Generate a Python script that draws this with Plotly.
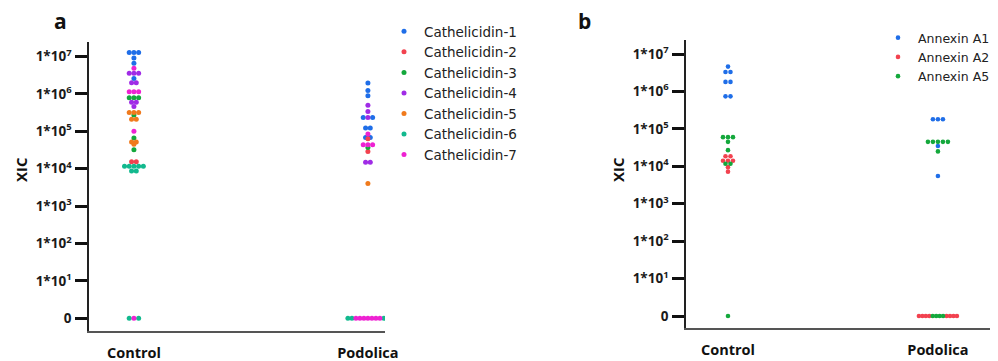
import math
import plotly.graph_objects as go

# The page body has an 8px margin; figure coordinates are window pixels minus this offset.
OFF = 8
W, H = 998 - OFF, 361 - OFF


def fx(px):
    return (px - OFF) / W


def fy(py):
    return 1 - (py - OFF) / H


groups = ["Control", "Podolica"]

# ---------------- Panel a: Cathelicidins (XIC values) ----------------
cath_names = ["Cathelicidin-1", "Cathelicidin-2", "Cathelicidin-3", "Cathelicidin-4",
              "Cathelicidin-5", "Cathelicidin-6", "Cathelicidin-7"]
cath_colors = ["#1f6ee8", "#f2424f", "#14a83c", "#a02ce6", "#f07a1c", "#12b98e", "#ee22d2"]

cath_control = [
    [1.28e7, 1.28e7, 1.28e7, 9.1e6, 6.6e6, 2.6e6],                 # C-1
    [1.55e4, 1.55e4],                                                # C-2
    [7.9e5, 7.9e5, 7.9e5, 2.75e5, 6.6e4, 3.2e4],                     # C-3
    [3.6e6, 3.6e6, 3.6e6, 2.0e6, 2.0e6, 6.0e5, 6.0e5, 4.6e5],        # C-4
    [3.2e5, 3.2e5, 3.2e5, 2.1e5, 2.1e5, 5.2e4, 5.2e4, 4.5e4],        # C-5
    [1.17e4] * 5 + [8.7e3, 8.7e3, 0, 0],                             # C-6
    [4.9e6, 1.15e6, 1.15e6, 1.15e6, 1.0e5, 0],                       # C-7
]
cath_podolica = [
    [1.95e6, 1.23e6, 8.9e5, 2.35e5, 2.35e5, 1.23e5, 1.23e5, 6.8e4, 6.8e4],  # C-1
    [6.3e4, 2.9e4],                                                          # C-2
    [3.7e4],                                                                 # C-3
    [5.0e5, 3.4e5, 2.35e5, 1.5e4, 1.5e4],                                    # C-4
    [4.0e3],                                                                 # C-5
    [0, 0, 0, 0],                                                            # C-6
    [8.5e4, 4.4e4, 4.4e4, 4.4e4] + [0] * 7,                                  # C-7
]

# ---------------- Panel b: Annexins (XIC values) ----------------
anx_names = ["Annexin A1", "Annexin A2", "Annexin A5"]
anx_colors = ["#1f6ee8", "#f2424f", "#14a83c"]

anx_control = [
    [4.6e6, 3.3e6, 3.3e6, 1.8e6, 1.8e6, 7.4e5, 7.4e5],               # A1
    [1.86e4, 1.86e4, 1.4e4, 1.4e4, 1.4e4, 9.5e3, 7.2e3],             # A2
    [6.0e4, 6.0e4, 6.0e4, 4.5e4, 2.7e4, 1.17e4, 1.17e4, 0],          # A5
]
anx_podolica = [
    [1.8e5, 1.8e5, 1.8e5, 3.5e4, 5.5e3],                             # A1
    [0] * 8,                                                         # A2
    [4.5e4] * 5 + [2.5e4, 0, 0, 0, 0],                               # A5
]

decades = list(range(8))
tick_text = ["0"] + ["1*10<sup>%d</sup>" % k for k in decades[1:]]


def ypos(v):
    return math.log10(v) if v > 0 else 0.0


def swarm(per_series, gi, px_per_unit, d_px, max_w):
    """Spread points with equal values side by side, centred on the group."""
    rows = {}
    for si, vals in enumerate(per_series):
        for v in vals:
            rows.setdefault(v, []).append(si)
    out = [([], []) for _ in per_series]
    for v, members in rows.items():
        members = sorted(members, reverse=True)
        n = len(members)
        sp = d_px if n < 2 else min(d_px, max_w / (n - 1))
        for k, si in enumerate(members):
            if n % 2 == 1:
                slot = 0 if k == 0 else ((k + 1) // 2) * (1 if k % 2 == 1 else -1)
            else:
                slot = (k // 2 + 0.5) * (1 if k % 2 == 0 else -1)
            out[si][0].append(gi + slot * sp / px_per_unit)
            out[si][1].append(ypos(v))
    return out


# panel geometry (paper fractions from window pixel positions)
a_xdom = [fx(89), fx(385)]
a_xrng = [-0.192, 1.073]
a_ydom = [fy(331), fy(42)]
a_yrng = [-0.34, 7.39]
b_xdom = [fx(686), fx(990)]
b_xrng = [-0.2, 1.248]
b_ydom = [fy(328), fy(40)]
b_yrng = [-0.32, 7.374]

a_ppu = (a_xdom[1] - a_xdom[0]) * W / (a_xrng[1] - a_xrng[0])
b_ppu = (b_xdom[1] - b_xdom[0]) * W / (b_xrng[1] - b_xrng[0])

fig = go.Figure()


def add_panel(names, colors, data_groups, ppu, d_px, max_w, msize, xa, ya, leg):
    placed = [swarm(dg, gi, ppu, d_px, max_w) for gi, dg in enumerate(data_groups)]
    for si, (nm, col) in enumerate(zip(names, colors)):
        xs, ys = [], []
        for gp in placed:
            xs += gp[si][0]
            ys += gp[si][1]
        fig.add_trace(go.Scatter(
            x=xs, y=ys, mode="markers", name=nm, xaxis=xa, yaxis=ya, legend=leg,
            marker=dict(color=col, size=msize, line=dict(width=0)),
        ))


add_panel(cath_names, cath_colors, [cath_control, cath_podolica], a_ppu, 4.7, 40, 5,
          "x", "y", "legend")
add_panel(anx_names, anx_colors, [anx_control, anx_podolica], b_ppu, 5.0, 38, 4.6,
          "x2", "y2", "legend2")

tick_font = dict(family="Open Sans", size=13.5, color="#1a1a1a", weight="bold")
cat_font = dict(family="Open Sans", size=14.5, color="#111", weight="bold")

yax = dict(tickmode="array", tickvals=decades, ticktext=tick_text,
           ticks="outside", ticklen=12, tickwidth=2.5, tickcolor="#111",
           showline=True, linecolor="#222", linewidth=1.5, showgrid=False,
           zeroline=False, tickfont=tick_font, ticklabelstandoff=1, automargin=False)
xax = dict(tickmode="array", tickvals=[0, 1], ticktext=groups, ticks="",
           showline=True, linecolor="#555", linewidth=2, showgrid=False,
           zeroline=False, tickfont=cat_font, ticklabelstandoff=8, automargin=False)

leg_font = dict(family="DejaVu Sans", size=13.5, color="#222")


def label(text, x, y, size, angle=0):
    return dict(text=text, x=fx(x), y=fy(y), xref="paper", yref="paper",
                xanchor="center", yanchor="middle", showarrow=False, textangle=angle,
                font=dict(family="Open Sans", size=size, color="#111"))


fig.update_layout(
    width=W, height=H, autosize=False,
    margin=dict(l=0, r=0, t=0, b=0, autoexpand=False),
    paper_bgcolor="white", plot_bgcolor="white",
    xaxis=dict(xax, domain=a_xdom, range=a_xrng, anchor="y"),
    yaxis=dict(yax, domain=a_ydom, range=a_yrng, anchor="x"),
    xaxis2=dict(xax, domain=b_xdom, range=b_xrng, anchor="y2"),
    yaxis2=dict(yax, domain=b_ydom, range=b_yrng, anchor="x2"),
    legend=dict(x=fx(384), y=fy(16), xanchor="left", yanchor="top",
                font=leg_font, itemsizing="trace",
                bgcolor="rgba(0,0,0,0)", tracegroupgap=0),
    legend2=dict(x=fx(878), y=fy(23), xanchor="left", yanchor="top",
                 font=dict(leg_font, size=12.5), itemsizing="trace",
                 bgcolor="rgba(0,0,0,0)", tracegroupgap=0),
    showlegend=True,
    annotations=[
        label("<b>a</b>", 60, 21, 21),
        label("<b>b</b>", 584, 21, 21),
        label("<b>XIC</b>", 21, 170, 15, -90),
        label("<b>XIC</b>", 618, 170, 15, -90),
    ],
)

fig.write_html("out.html")
